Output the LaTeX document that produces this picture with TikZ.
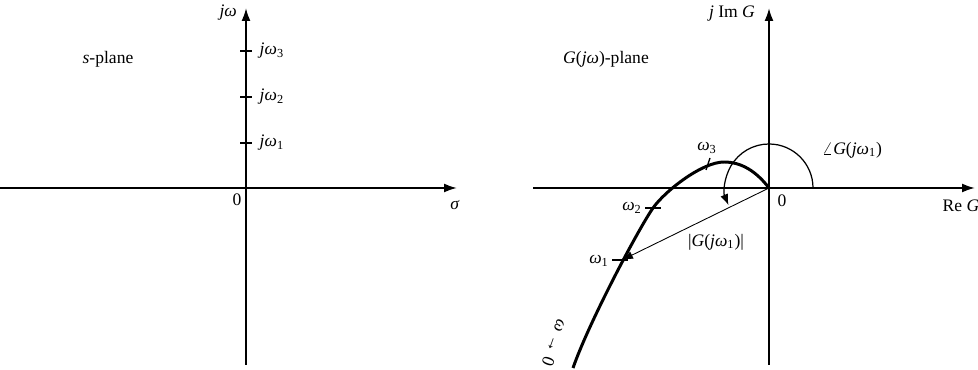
\documentclass[tikz,border=0pt]{standalone}
\usepackage{fontspec}
\setmainfont{Liberation Serif}
\usetikzlibrary{arrows.meta, positioning}

\newcommand{\om}[1]{\textit{ω}\textsubscript{#1}}

\begin{document}
\begin{tikzpicture}[x=0.2mm, y=0.2mm,
  axis/.style={-{Latex[length=2.6mm,width=1.8mm]}, line width=1.1pt},
  tick/.style={line width=0.8pt},
  lbl/.style={inner sep=1pt},
  locus/.style={line width=1.7pt},
  arr/.style={-{Latex[length=2.2mm,width=1.6mm]}, line width=0.7pt}
]
\useasboundingbox (0,0) rectangle (978,370);

% s-plane
\coordinate (so) at (246,182);
\coordinate (sw) at (0,182);
\coordinate (se) at (457,182);
\coordinate (ss) at (246,5);
\coordinate (sn) at (246,362);
\draw[axis] (sw) -- (se);
\draw[axis] (ss) -- (sn);
\foreach \y/\k in {227/1, 273/2, 319/3}{
  \draw[tick] (240,\y) -- (252,\y) node[lbl, right=3pt] (jw\k) {\textit{j}\om{\k}};
}
\node[lbl, anchor=east] (jwlab) at (239,357) {\textit{jω}};
\node[lbl] (sorig) at (237,170) {0};
\node[lbl] (sigma) at (455,165) {\textit{σ}};
\node[lbl] (splane) at (108,311) {\textit{s}-plane};

% G(jw)-plane
\coordinate (go) at (769,182);
\coordinate (gw) at (533,182);
\coordinate (ge) at (975,182);
\coordinate (gs) at (769,5);
\coordinate (gn) at (769,362);
\draw[axis] (gw) -- (ge);
\draw[axis] (gs) -- (gn);
\node[lbl, anchor=east] (imlab) at (757,356) {\textit{j} Im \textit{G}};
\node[lbl] (gorig) at (782,169) {0};
\node[lbl] (relab) at (961,164) {Re \textit{G}};
\node[lbl] (gplane) at (606,311) {\textit{G}(\textit{jω})-plane};

% polar locus
\coordinate (peak) at (724,208);
\coordinate (w2) at (653,162);
\coordinate (tail) at (573,2);
\draw[locus] (go) .. controls (756,199) and (741,208) .. (peak)
  .. controls (702,208) and (665,179) .. (w2)
  .. controls (639,142) and (589,48) .. (tail);
\coordinate (w1) at (622,110);
\coordinate (w3) at (708,206);
\draw[tick] (612,110) -- (628,110);
\draw[tick] (645,162) -- (661,162);
\draw[tick] (706,200) -- (710,212);
\node[lbl] (w1lab) at (599,109) {\om{1}};
\node[lbl] (w2lab) at (632,162) {\om{2}};
\node[lbl] (w3lab) at (707,222) {\om{3}};
\node[lbl, rotate=-110] (wzero) at (555,27) {\textit{ω} → 0};

% magnitude and angle
\draw[arr, line width=0.5pt] (go) -- (w1);
\node[lbl] (maglab) at (716,128) {|\textit{G}(\textit{j}\om{1})|};
\coordinate (a0) at (813,182);
\draw[arr] (a0) arc[start angle=0, end angle=203, radius=44];
\node[lbl] (anglab) at (852,220) {$\angle$\textit{G}(\textit{j}\om{1})};
\end{tikzpicture}
\end{document}
